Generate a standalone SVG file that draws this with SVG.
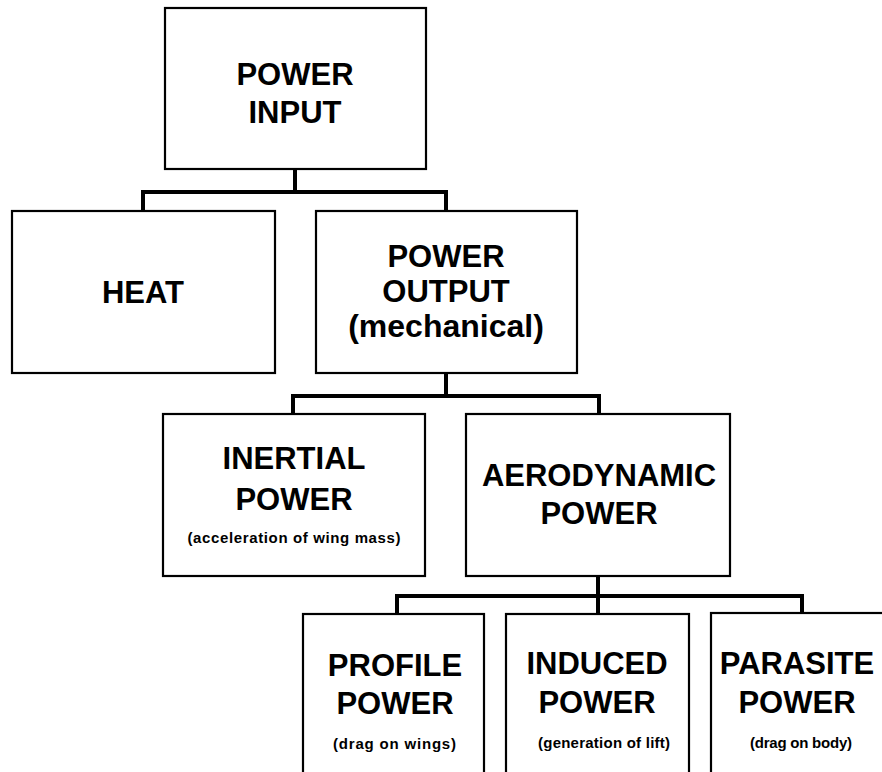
<svg xmlns="http://www.w3.org/2000/svg" width="882" height="772" viewBox="0 0 882 772">
<style>
.box{fill:#fff;stroke:#000;stroke-width:2.2}
.conn{fill:none;stroke:#000;stroke-width:4;stroke-linejoin:miter;stroke-linecap:square}
.big{font-family:"Liberation Sans",Arial,sans-serif;font-weight:bold;font-size:31px;text-anchor:middle;fill:#000}
.small{font-family:"Liberation Sans",Arial,sans-serif;font-weight:bold;font-size:15px;text-anchor:middle;fill:#000}
</style>
<rect width="882" height="772" fill="#fff"/>
<g id="connectors">
<path class="conn" d="M295,170 V192 M143,211 V192 H446 V211"/>
<path class="conn" d="M446,374 V396 M293,414 V396 H599 V414"/>
<path class="conn" d="M598,577 V596 M397,613 V596 H802 V613 M598,596 V613"/>
</g>
<g id="power-input">
<rect class="box" x="165" y="8" width="261" height="161"/>
<text class="big" x="295" y="85">POWER</text>
<text class="big" x="295" y="123">INPUT</text>
</g>
<g id="heat">
<rect class="box" x="12" y="211" width="263" height="162"/>
<text class="big" x="143" y="303">HEAT</text>
</g>
<g id="power-output">
<rect class="box" x="316" y="211" width="261" height="162"/>
<text class="big" x="446" y="267">POWER</text>
<text class="big" x="446" y="302">OUTPUT</text>
<text class="big" x="446" y="337" style="font-size:32px">(mechanical)</text>
</g>
<g id="inertial-power">
<rect class="box" x="163" y="414" width="262" height="162"/>
<text class="big" x="294" y="469">INERTIAL</text>
<text class="big" x="294" y="510">POWER</text>
<text class="small" x="294" y="543" textLength="213" lengthAdjust="spacing">(acceleration of wing mass)</text>
</g>
<g id="aerodynamic-power">
<rect class="box" x="466" y="414" width="264" height="162"/>
<text class="big" x="599" y="486">AERODYNAMIC</text>
<text class="big" x="599" y="524">POWER</text>
</g>
<g id="profile-power">
<rect class="box" x="303" y="614" width="181" height="200"/>
<text class="big" x="395" y="676">PROFILE</text>
<text class="big" x="395" y="714">POWER</text>
<text class="small" x="394.5" y="749" textLength="123" lengthAdjust="spacing">(drag on wings)</text>
</g>
<g id="induced-power">
<rect class="box" x="506" y="614" width="183" height="200"/>
<text class="big" x="597" y="674">INDUCED</text>
<text class="big" x="597" y="713">POWER</text>
<text class="small" x="604" y="748" textLength="132" lengthAdjust="spacing">(generation of lift)</text>
</g>
<g id="parasite-power">
<rect class="box" x="711" y="613" width="220" height="200"/>
<text class="big" x="797" y="674">PARASITE</text>
<text class="big" x="797" y="713">POWER</text>
<text class="small" x="801" y="748" textLength="102" lengthAdjust="spacing">(drag on body)</text>
</g>
</svg>
